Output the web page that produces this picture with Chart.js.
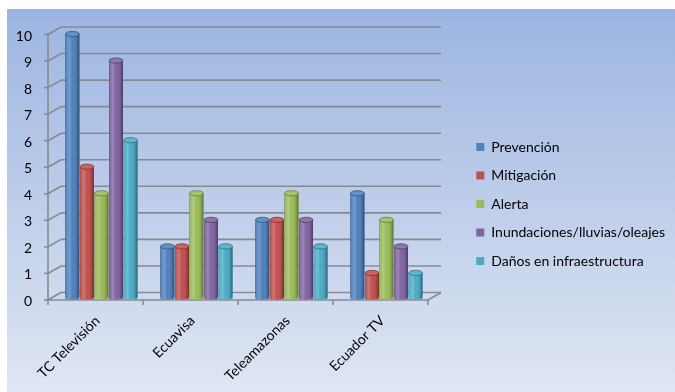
<!DOCTYPE html>
<html>
<head>
<meta charset="utf-8">
<script src="https://cdn.jsdelivr.net/npm/chart.js@4"></script>
<style>
  html, body { margin: 0; padding: 0; background: #fff; }
  #wrap { width: 675px; height: 392px; position: relative; }
</style>
</head>
<body>
<div id="wrap"><canvas id="chart"></canvas></div>
<script>
const channels = ['TC Televisión', 'Ecuavisa', 'Teleamazonas', 'Ecuador TV']
const prevencion = [10, 2, 3, 4]
const mitigacion = [5, 2, 3, 1]
const alerta = [4, 4, 4, 3]
const inundaciones = [9, 3, 3, 2]
const danos = [6, 2, 2, 1]
const seriesNames = ['Prevención', 'Mitigación', 'Alerta', 'Inundaciones/lluvias/oleajes', 'Daños en infraestructura']
const seriesColors = ['#4f81bd', '#c0504d', '#9bbb59', '#8064a2', '#4bacc6']
const seriesValues = [prevencion, mitigacion, alerta, inundaciones, danos]

const FONT = 'Lato'
// offsets of the back wall and the front edge from the bar plane
const BACK = {x: 7, y: -7}
const FRONT = {x: -6, y: 0.5}

const mix = (hex, other, t) => {
    let a = parseInt(hex.slice(1), 16), b = parseInt(other.slice(1), 16)
    let r = Math.round(((a >> 16) & 255) * (1 - t) + ((b >> 16) & 255) * t)
    let g = Math.round(((a >> 8) & 255) * (1 - t) + ((b >> 8) & 255) * t)
    let bl = Math.round((a & 255) * (1 - t) + (b & 255) * t)
    return `rgb(${r},${g},${bl})`
}

const backgroundPlugin = {
    id: 'bg',
    beforeDraw(chart) {
        let ctx = chart.ctx
        let g = ctx.createLinearGradient(0, 9, 0, chart.height)
        g.addColorStop(0, '#9cb5e1')
        g.addColorStop(1, '#dfe6f3')
        ctx.save()
        ctx.fillStyle = g
        ctx.fillRect(7, 9, chart.width - 7, chart.height - 9)
        ctx.restore()
    }
}

const framePlugin = {
    id: 'frame',
    beforeDatasetsDraw(chart) {
        let ctx = chart.ctx
        let {left, right} = chart.chartArea
        let ys = chart.scales.y
        let line = (x1, y1, x2, y2) => {
            ctx.beginPath(); ctx.moveTo(x1, y1); ctx.lineTo(x2, y2); ctx.stroke()
        }
        ctx.save()
        ctx.strokeStyle = '#878a8f'
        ctx.lineWidth = 1.6
        ys.ticks.forEach(t => {
            let y = ys.getPixelForValue(t.value)
            line(left + BACK.x, y + BACK.y, right + BACK.x, y + BACK.y)
            line(left + BACK.x, y + BACK.y, left + FRONT.x, y + FRONT.y)
            line(left + FRONT.x - 4, y + FRONT.y, left + FRONT.x, y + FRONT.y)
        })
        let yTop = ys.getPixelForValue(ys.max), y0 = ys.getPixelForValue(0)
        line(left + FRONT.x, yTop + FRONT.y, left + FRONT.x, y0 + FRONT.y)
        line(left + FRONT.x, y0 + FRONT.y, right + FRONT.x, y0 + FRONT.y)
        line(right + FRONT.x, y0 + FRONT.y, right + BACK.x, y0 + BACK.y)
        let n = channels.length
        for (let i = 0; i <= n; i++) {
            let x = left + i * (right - left) / n + FRONT.x
            line(x, y0 + FRONT.y, x, y0 + FRONT.y + 5)
        }
        ctx.restore()
    }
}

const cylinderPlugin = {
    id: 'cylinder',
    afterDatasetsDraw(chart) {
        let ctx = chart.ctx
        ctx.save()
        chart.data.datasets.forEach((ds, di) => {
            let color = seriesColors[di]
            chart.getDatasetMeta(di).data.forEach(bar => {
                let {x, y, base, width} = bar.getProps(['x', 'y', 'base', 'width'], true)
                let l = x - width / 2, rx = width / 2, ry = 2.6
                let g = ctx.createLinearGradient(l, 0, l + width, 0)
                g.addColorStop(0, 'rgba(0,0,0,0.35)')
                g.addColorStop(0.08, 'rgba(255,255,255,0.05)')
                g.addColorStop(0.27, 'rgba(255,255,255,0.22)')
                g.addColorStop(0.5, 'rgba(255,255,255,0)')
                g.addColorStop(0.85, 'rgba(0,0,0,0.16)')
                g.addColorStop(1, 'rgba(0,0,0,0.42)')
                // repaint the body with a rounded bottom
                ctx.fillStyle = color
                ctx.beginPath()
                ctx.moveTo(l, y)
                ctx.lineTo(l, base - ry)
                ctx.ellipse(x, base - ry, rx, ry, 0, Math.PI, 0, true)
                ctx.lineTo(l + width, y)
                ctx.closePath()
                ctx.fill()
                ctx.fillStyle = g
                ctx.fill()
                // top cap
                ctx.beginPath()
                ctx.ellipse(x, y, rx, ry, 0, 0, Math.PI * 2)
                ctx.fillStyle = mix(color, '#ffffff', 0.12)
                ctx.fill()
                ctx.strokeStyle = mix(color, '#000000', 0.35)
                ctx.lineWidth = 0.8
                ctx.stroke()
            })
        })
        ctx.restore()
    }
}

let datasets = seriesNames.map((name, i) => ({
    label: name,
    data: seriesValues[i],
    backgroundColor: seriesColors[i],
    borderWidth: 0,
    categoryPercentage: 0.765,
    barPercentage: 0.95
}))

let config = {
    type: 'bar',
    data: {labels: channels, datasets: datasets},
    options: {
        responsive: false,
        animation: false,
        layout: {padding: {top: 29, bottom: 13, left: 7, right: 0}},
        plugins: {
            tooltip: {enabled: false},
            legend: {
                position: 'right',
                maxWidth: 216,
                labels: {
                    boxWidth: 8,
                    boxHeight: 8,
                    padding: 14.5,
                    color: '#000',
                    font: {family: FONT, size: 14}
                }
            }
        },
        scales: {
            x: {
                grid: {display: false},
                border: {display: false},
                ticks: {
                    minRotation: 45,
                    maxRotation: 45,
                    padding: 5,
                    labelOffset: -4,
                    color: '#000',
                    font: {family: FONT, size: 14}
                },
                afterFit: s => { s.height = 79.5 }
            },
            topSpacer: {
                axis: 'x',
                type: 'linear',
                position: 'top',
                grid: {display: false},
                border: {display: false},
                ticks: {display: false},
                afterFit: s => { s.height = 5 }
            },
            y: {
                min: 0,
                max: 10,
                grid: {display: false},
                border: {display: false},
                ticks: {
                    stepSize: 1,
                    padding: 14,
                    labelOffset: 2,
                    color: '#000',
                    font: {family: FONT, size: 14}
                },
                afterFit: s => { s.width = 47 }
            },
            spacer: {
                type: 'linear',
                position: 'right',
                grid: {display: false},
                border: {display: false},
                ticks: {display: false},
                afterFit: s => {
                    let lg = s.chart.legend
                    s.width = Math.max(0, s.chart.width - (lg ? lg.width : 216) - 434)
                }
            }
        }
    },
    plugins: [backgroundPlugin, framePlugin, cylinderPlugin]
}

let canvas = document.getElementById('chart')
canvas.width = 675
canvas.height = 392
let chart = new Chart(canvas.getContext('2d'), config)
</script>
</body>
</html>
